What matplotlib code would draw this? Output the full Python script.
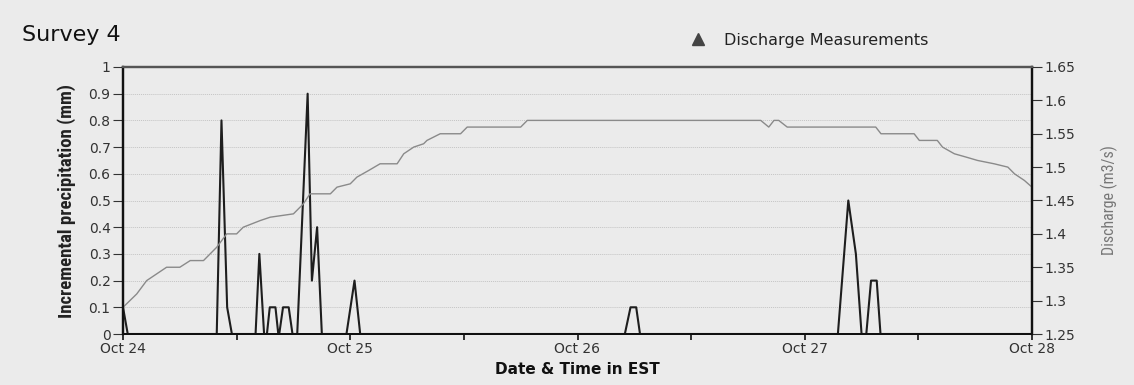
import matplotlib
matplotlib.use("Agg")
import matplotlib.pyplot as plt
from matplotlib import font_manager
from matplotlib.lines import Line2D

# Hours elapsed since Oct 24 00:00 EST
precip_hours = [0, 0.5,
                9.9, 10.4, 11.0, 11.5,
                14.0, 14.4, 14.9, 15.2, 15.5, 16.1, 16.4, 16.5, 16.9, 17.5, 17.9,
                18.4, 19.5, 19.95, 20.5, 21.0,
                23.6, 24.45, 25.05,
                53.0, 53.6, 54.2, 54.6,
                75.5, 76.6, 77.4, 78.0,
                78.5, 79.0, 79.6, 80.0, 96.0]
precip_mm = [0.1, 0.0,
             0.0, 0.8, 0.1, 0.0,
             0.0, 0.3, 0.0, 0.0, 0.1, 0.1, 0.0, 0.0, 0.1, 0.1, 0.0,
             0.0, 0.9, 0.2, 0.4, 0.0,
             0.0, 0.2, 0.0,
             0.0, 0.1, 0.1, 0.0,
             0.0, 0.5, 0.3, 0.0,
             0.0, 0.2, 0.2, 0.0, 0.0]

discharge_hours = [0, 1.45, 2.5, 3.55, 4.6, 6.0, 7.1, 8.5, 9.9, 10.95, 12.0, 12.7,
                   14.5, 15.55, 18.0, 19.05, 19.75, 21.9, 22.6, 24.0, 24.7, 25.95,
                   27.15, 28.95, 29.65, 30.7, 31.75, 32.1, 33.5, 35.65, 36.35, 42.0,
                   42.7, 67.35, 68.2, 68.75, 69.25, 70.15, 79.5, 80.05, 83.55, 84.1,
                   86.0, 86.55, 87.8, 89.05, 90.25, 92.0, 93.45, 94.15, 95.2, 96.0]
discharge_m3s = [1.29, 1.31, 1.33, 1.34, 1.35, 1.35, 1.36, 1.36, 1.38, 1.40, 1.40, 1.41,
                 1.42, 1.425, 1.43, 1.445, 1.46, 1.46, 1.47, 1.475, 1.485, 1.495,
                 1.505, 1.505, 1.52, 1.53, 1.535, 1.54, 1.55, 1.55, 1.56, 1.56,
                 1.57, 1.57, 1.56, 1.57, 1.57, 1.56, 1.56, 1.55, 1.55, 1.54,
                 1.54, 1.53, 1.52, 1.515, 1.51, 1.505, 1.50, 1.49, 1.48, 1.47]

day_ticks = [0, 24, 48, 72, 96]
day_labels = ["Oct 24", "Oct 25", "Oct 26", "Oct 27", "Oct 28"]
half_day_ticks = [12, 36, 60, 84]
precip_ticks = [0, 0.1, 0.2, 0.3, 0.4, 0.5, 0.6, 0.7, 0.8, 0.9, 1]
precip_labels = ["0", "0.1", "0.2", "0.3", "0.4", "0.5", "0.6", "0.7", "0.8", "0.9", "1"]
discharge_ticks = [1.25, 1.3, 1.35, 1.4, 1.45, 1.5, 1.55, 1.6, 1.65]
discharge_labels = ["1.25", "1.3", "1.35", "1.4", "1.45", "1.5", "1.55", "1.6", "1.65"]


def pick_font(names):
    available = {f.name for f in font_manager.fontManager.ttflist}
    for n in names:
        if n in available:
            return n
    return "DejaVu Sans"


narrow = pick_font(["Liberation Sans Narrow", "Roboto Condensed", "Liberation Serif"])
BG = "#ebebeb"

fig = plt.figure(figsize=(11.34, 3.85), dpi=100, facecolor=BG)
ax = fig.add_axes([123 / 1134, 51 / 385, 909 / 1134, 267 / 385], facecolor=BG)
ax2 = ax.twinx()

# horizontal grid at each precipitation tick
for t in precip_ticks[1:-1]:
    ax.axhline(t, color="#c4c4c4", lw=0.7, ls=(0, (1, 1)), zorder=0)

ax.plot(precip_hours, precip_mm, color="#1e1e1e", lw=1.5, zorder=3)
ax2.plot(discharge_hours, discharge_m3s, color="#8a8a8a", lw=1.0, zorder=2)

ax.set_xlim(0, 96)
ax.set_ylim(0, 1)
ax2.set_ylim(1.25, 1.65)

ax.set_xticks(day_ticks)
ax.set_xticklabels(day_labels)
ax.set_xticks(half_day_ticks, minor=True)
ax.set_yticks(precip_ticks)
ax.set_yticklabels(precip_labels)
ax2.set_yticks(discharge_ticks)
ax2.set_yticklabels(discharge_labels)

for lab in ax.get_xticklabels() + ax.get_yticklabels() + ax2.get_yticklabels():
    lab.set_fontfamily("DejaVu Sans")
    lab.set_fontsize(10)
    lab.set_color("#333333")

ax.tick_params(axis="x", which="major", length=4, width=1.2, color="#111111", pad=2)
ax.tick_params(axis="x", which="minor", length=4, width=1.2, color="#111111")
ax.tick_params(axis="y", length=7, width=0.8, color="#333333", pad=2)
ax2.tick_params(axis="y", length=7, width=0.8, color="#333333", pad=2)

for a in (ax, ax2):
    a.spines["left"].set_linewidth(1.6)
    a.spines["left"].set_color("#111111")
    a.spines["right"].set_linewidth(1.6)
    a.spines["right"].set_color("#111111")
    a.spines["bottom"].set_linewidth(1.4)
    a.spines["bottom"].set_color("#111111")
    a.spines["top"].set_linewidth(1.6)
    a.spines["top"].set_color("#555555")

ax.set_xlabel("Date & Time in EST", fontsize=11, fontweight="bold",
              family="DejaVu Sans", color="#111111", labelpad=4)
ax.set_ylabel("Incremental precipitation (mm)", fontsize=13.5, fontweight="bold",
              family=narrow, color="#222222", labelpad=9)
ax2.set_ylabel("Discharge (m3/s)", fontsize=11.5, family=narrow, color="#777777",
               labelpad=18)

fig.text(22 / 1134, 1 - 35 / 385, "Survey 4", fontsize=16, family="DejaVu Sans",
         color="#111111", va="center", ha="left")

handle = Line2D([], [], linestyle="none", marker="^", markersize=9,
                color="#444444", markeredgecolor="#444444")
fig.legend([handle], ["Discharge Measurements"], loc="center left",
           bbox_to_anchor=(674 / 1134, 1 - 40 / 385), frameon=False,
           prop=dict(family="DejaVu Sans", size=11.5), handlelength=1.2,
           handletextpad=1.0, labelcolor="#222222")

fig.savefig("out.png", dpi=100, facecolor=BG)
